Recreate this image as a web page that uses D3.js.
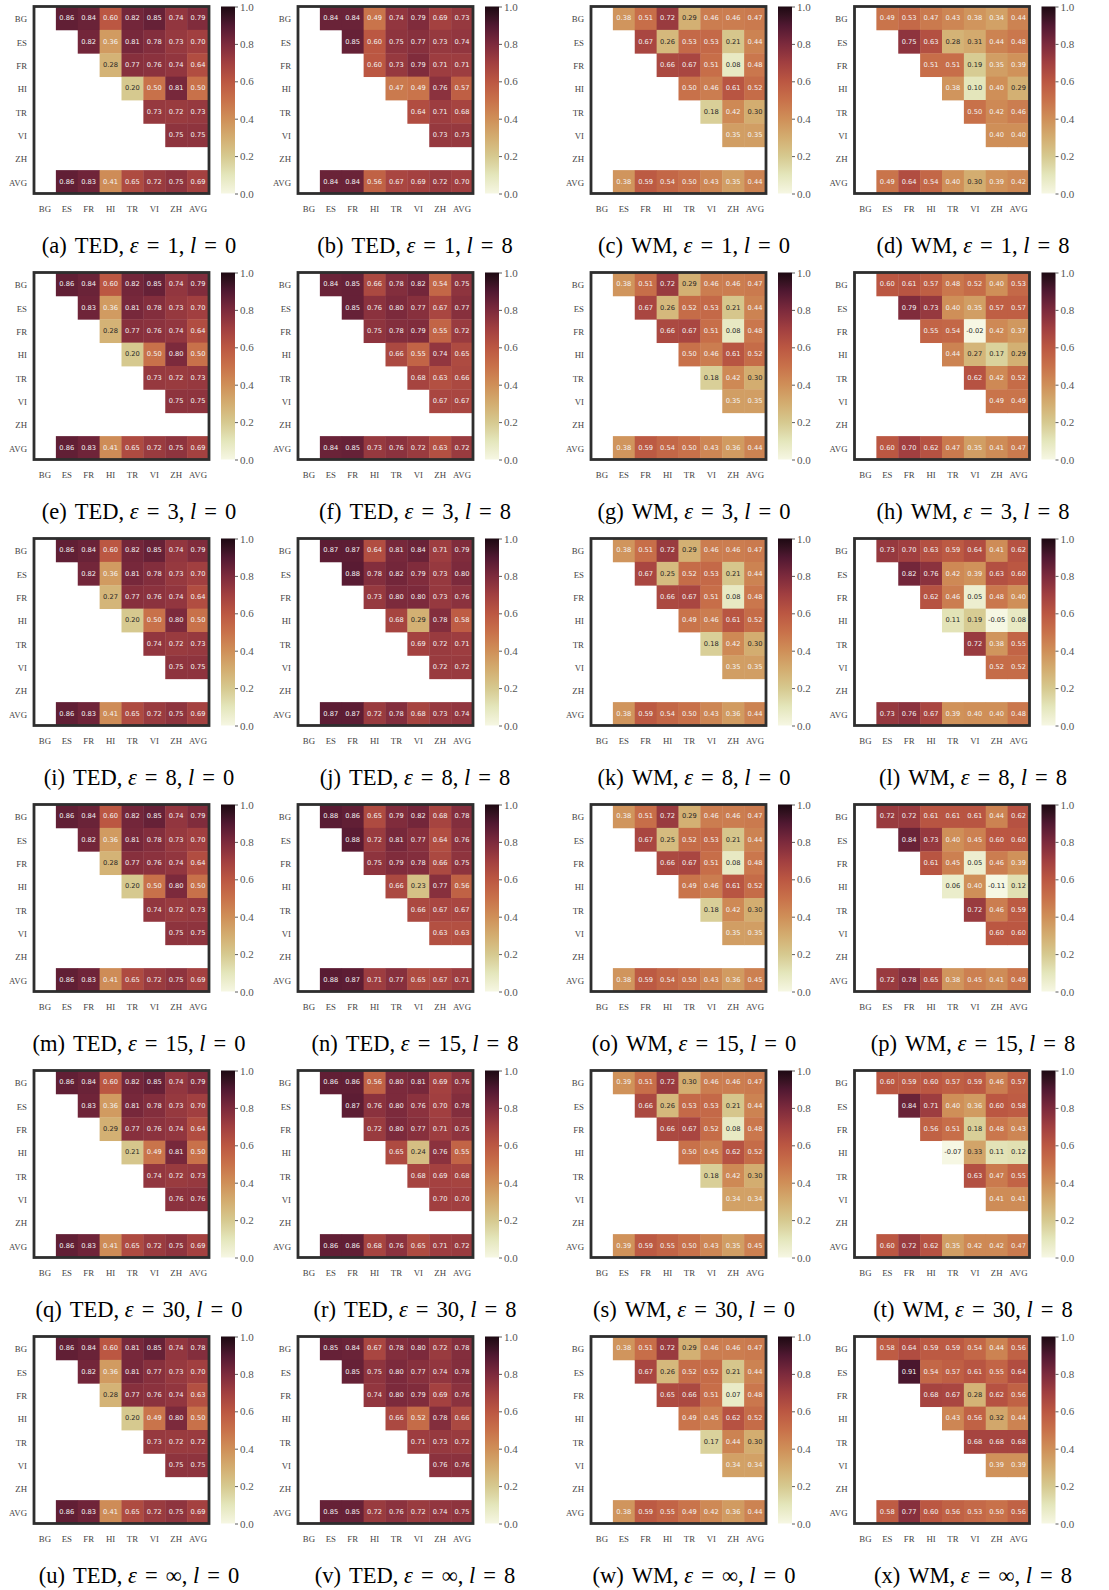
<!DOCTYPE html>
<html><head><meta charset="utf-8">
<script src="https://cdn.jsdelivr.net/npm/d3@7"></script>
<style>body{margin:0;background:#fff}</style>
</head><body>
<script>
// ---------- categories / ticks ----------
const langs = ["BG","ES","FR","HI","TR","VI","ZH","AVG"];
const cbTicks = [0.0, 0.2, 0.4, 0.6, 0.8, 1.0];

// ---------- panel descriptors ----------
const panelLetters = ["a","b","c","d","e","f","g","h","i","j","k","l","m","n","o","p","q","r","s","t","u","v","w","x"];
const panelMethods = ["TED","TED","WM","WM","TED","TED","WM","WM","TED","TED","WM","WM","TED","TED","WM","WM","TED","TED","WM","WM","TED","TED","WM","WM"];
const panelEps = ["1","1","1","1","3","3","3","3","8","8","8","8","15","15","15","15","30","30","30","30","∞","∞","∞","∞"];
const panelLayers = ["0","8","0","8","0","8","0","8","0","8","0","8","0","8","0","8","0","8","0","8","0","8","0","8"];

// ---------- values: rows BG..VI (cols right of diagonal + AVG), last = AVG row (ES..AVG) ----------
const tedE1L0 = [[.86,.84,.60,.82,.85,.74,.79],[.82,.36,.81,.78,.73,.70],[.28,.77,.76,.74,.64],[.20,.50,.81,.50],[.73,.72,.73],[.75,.75],[.86,.83,.41,.65,.72,.75,.69]];
const tedE1L8 = [[.84,.84,.49,.74,.79,.69,.73],[.85,.60,.75,.77,.73,.74],[.60,.73,.79,.71,.71],[.47,.49,.76,.57],[.64,.71,.68],[.73,.73],[.84,.84,.56,.67,.69,.72,.70]];
const wmE1L0 = [[.38,.51,.72,.29,.46,.46,.47],[.67,.26,.53,.53,.21,.44],[.66,.67,.51,.08,.48],[.50,.46,.61,.52],[.18,.42,.30],[.35,.35],[.38,.59,.54,.50,.43,.35,.44]];
const wmE1L8 = [[.49,.53,.47,.43,.38,.34,.44],[.75,.63,.28,.31,.44,.48],[.51,.51,.19,.35,.39],[.38,.10,.40,.29],[.50,.42,.46],[.40,.40],[.49,.64,.54,.40,.30,.39,.42]];

const tedE3L0 = [[.86,.84,.60,.82,.85,.74,.79],[.83,.36,.81,.78,.73,.70],[.28,.77,.76,.74,.64],[.20,.50,.80,.50],[.73,.72,.73],[.75,.75],[.86,.83,.41,.65,.72,.75,.69]];
const tedE3L8 = [[.84,.85,.66,.78,.82,.54,.75],[.85,.76,.80,.77,.67,.77],[.75,.78,.79,.55,.72],[.66,.55,.74,.65],[.68,.63,.66],[.67,.67],[.84,.85,.73,.76,.72,.63,.72]];
const wmE3L0 = [[.38,.51,.72,.29,.46,.46,.47],[.67,.26,.52,.53,.21,.44],[.66,.67,.51,.08,.48],[.50,.46,.61,.52],[.18,.42,.30],[.35,.35],[.38,.59,.54,.50,.43,.36,.44]];
const wmE3L8 = [[.60,.61,.57,.48,.52,.40,.53],[.79,.73,.40,.35,.57,.57],[.55,.54,-.02,.42,.37],[.44,.27,.17,.29],[.62,.42,.52],[.49,.49],[.60,.70,.62,.47,.35,.41,.47]];

const tedE8L0 = [[.86,.84,.60,.82,.85,.74,.79],[.82,.36,.81,.78,.73,.70],[.27,.77,.76,.74,.64],[.20,.50,.80,.50],[.74,.72,.73],[.75,.75],[.86,.83,.41,.65,.72,.75,.69]];
const tedE8L8 = [[.87,.87,.64,.81,.84,.71,.79],[.88,.78,.82,.79,.73,.80],[.73,.80,.80,.73,.76],[.68,.29,.78,.58],[.69,.72,.71],[.72,.72],[.87,.87,.72,.78,.68,.73,.74]];
const wmE8L0 = [[.38,.51,.72,.29,.46,.46,.47],[.67,.25,.52,.53,.21,.44],[.66,.67,.51,.08,.48],[.49,.46,.61,.52],[.18,.42,.30],[.35,.35],[.38,.59,.54,.50,.43,.36,.44]];
const wmE8L8 = [[.73,.70,.63,.59,.64,.41,.62],[.82,.76,.42,.39,.63,.60],[.62,.46,.05,.48,.40],[.11,.19,-.05,.08],[.72,.38,.55],[.52,.52],[.73,.76,.67,.39,.40,.40,.48]];

const tedE15L0 = [[.86,.84,.60,.82,.85,.74,.79],[.82,.36,.81,.78,.73,.70],[.28,.77,.76,.74,.64],[.20,.50,.80,.50],[.74,.72,.73],[.75,.75],[.86,.83,.41,.65,.72,.75,.69]];
const tedE15L8 = [[.88,.86,.65,.79,.82,.68,.78],[.88,.72,.81,.77,.64,.76],[.75,.79,.78,.66,.75],[.66,.23,.77,.56],[.66,.67,.67],[.63,.63],[.88,.87,.71,.77,.65,.67,.71]];
const wmE15L0 = [[.38,.51,.72,.29,.46,.46,.47],[.67,.25,.52,.53,.21,.44],[.66,.67,.51,.08,.48],[.49,.46,.61,.52],[.18,.42,.30],[.35,.35],[.38,.59,.54,.50,.43,.36,.45]];
const wmE15L8 = [[.72,.72,.61,.61,.61,.44,.62],[.84,.73,.40,.45,.60,.60],[.61,.45,.05,.46,.39],[.06,.40,-.11,.12],[.72,.46,.59],[.60,.60],[.72,.78,.65,.38,.45,.41,.49]];

const tedE30L0 = [[.86,.84,.60,.82,.85,.74,.79],[.83,.36,.81,.78,.73,.70],[.29,.77,.76,.74,.64],[.21,.49,.81,.50],[.74,.72,.73],[.76,.76],[.86,.83,.41,.65,.72,.75,.69]];
const tedE30L8 = [[.86,.86,.56,.80,.81,.69,.76],[.87,.76,.80,.76,.70,.78],[.72,.80,.77,.71,.75],[.65,.24,.76,.55],[.68,.69,.68],[.70,.70],[.86,.86,.68,.76,.65,.71,.72]];
const wmE30L0 = [[.39,.51,.72,.30,.46,.46,.47],[.66,.26,.53,.53,.21,.44],[.66,.67,.52,.08,.48],[.50,.45,.62,.52],[.18,.42,.30],[.34,.34],[.39,.59,.55,.50,.43,.35,.45]];
const wmE30L8 = [[.60,.59,.60,.57,.59,.46,.57],[.84,.71,.40,.36,.60,.58],[.56,.51,.18,.48,.43],[-.07,.33,.11,.12],[.63,.47,.55],[.41,.41],[.60,.72,.62,.35,.42,.42,.47]];

const tedEinfL0 = [[.86,.84,.60,.81,.85,.74,.78],[.82,.36,.81,.77,.73,.70],[.28,.77,.76,.74,.63],[.20,.49,.80,.50],[.73,.72,.72],[.75,.75],[.86,.83,.41,.65,.72,.75,.69]];
const tedEinfL8 = [[.85,.84,.67,.78,.80,.72,.78],[.85,.75,.80,.77,.74,.78],[.74,.80,.79,.69,.76],[.66,.52,.78,.66],[.71,.73,.72],[.76,.76],[.85,.85,.72,.76,.72,.74,.75]];
const wmEinfL0 = [[.38,.51,.72,.29,.46,.46,.47],[.67,.26,.52,.52,.21,.44],[.65,.66,.51,.07,.48],[.49,.45,.62,.52],[.17,.44,.30],[.34,.34],[.38,.59,.55,.49,.42,.36,.44]];
const wmEinfL8 = [[.58,.64,.59,.59,.54,.44,.56],[.91,.54,.57,.61,.55,.64],[.68,.67,.28,.62,.56],[.43,.56,.32,.44],[.68,.68,.68],[.39,.39],[.58,.77,.60,.56,.53,.50,.56]];

const panelData = [tedE1L0, tedE1L8, wmE1L0, wmE1L8, tedE3L0, tedE3L8, wmE3L0, wmE3L8,
  tedE8L0, tedE8L8, wmE8L0, wmE8L8, tedE15L0, tedE15L8, wmE15L0, wmE15L8,
  tedE30L0, tedE30L8, wmE30L0, wmE30L8, tedEinfL0, tedEinfL8, wmEinfL0, wmEinfL8];

// ---------- colour map ----------
const cmapStops = [0,.1,.2,.3,.4,.5,.6,.7,.8,.9,1];
const cmapColors = ["#f6f7e3","#e4e6bb","#d6c98f","#d3ad70","#cf8f58","#c8714a","#bb5742","#a13f40","#7c2a3c","#501831","#1d0912"];
const color = d3.scaleLinear().domain(cmapStops).range(cmapColors).interpolate(d3.interpolateLab).clamp(true);

// ---------- layout ----------
const WIDTH = 1109, HEIGHT = 1590;
const colLeft = [34, 298, 591, 854.5];
const capCX = [139, 415, 694, 973];
const W = 175, H = 187, rowPitch = 266, top0 = 6.5;

const svg = d3.select("body").append("svg").attr("width", WIDTH).attr("height", HEIGHT)
  .style("font-family", "'Liberation Serif', serif");
svg.append("rect").attr("width", WIDTH).attr("height", HEIGHT).attr("fill", "#fff");

const defs = svg.append("defs");
const grad = defs.append("linearGradient").attr("id", "cbgrad").attr("x1", 0).attr("y1", 1).attr("x2", 0).attr("y2", 0);
d3.range(0, 1.0001, 0.05).forEach(t => grad.append("stop").attr("offset", t).attr("stop-color", color(t)));

function cellsOf(mat) {
  const out = [];
  for (let i = 0; i < 6; i++) {
    const row = mat[i];
    row.forEach((v, k) => {
      const j = (k === row.length - 1) ? 7 : i + 1 + k;
      out.push({r: langs[i], c: langs[j], v});
    });
  }
  mat[6].forEach((v, k) => out.push({r: "AVG", c: langs[k + 1], v}));
  return out;
}

panelData.forEach((mat, p) => {
  const r = Math.floor(p / 4), c = p % 4;
  const x0 = colLeft[c], y0 = top0 + rowPitch * r;
  const g = svg.append("g");
  const x = d3.scaleBand().domain(langs).range([x0, x0 + W]);
  const y = d3.scaleBand().domain(langs).range([y0, y0 + H]);

  const cells = cellsOf(mat);
  g.selectAll("rect.cell").data(cells).join("rect").attr("class", "cell")
    .attr("x", d => x(d.c)).attr("y", d => y(d.r))
    .attr("width", x.bandwidth() + 0.4).attr("height", y.bandwidth() + 0.4)
    .attr("fill", d => color(d.v));
  g.selectAll("text.ann").data(cells).join("text").attr("class", "ann")
    .attr("x", d => x(d.c) + x.bandwidth() / 2).attr("y", d => y(d.r) + y.bandwidth() / 2)
    .attr("text-anchor", "middle").attr("dominant-baseline", "central")
    .style("font-family", "'DejaVu Sans', sans-serif").style("font-size", "6.7px")
    .attr("fill", d => d.v < 0.335 ? "#262626" : "#f4f4f4")
    .text(d => d3.format(".2f")(d.v).replace("−", "-"));

  // frame
  g.append("rect").attr("x", x0).attr("y", y0).attr("width", W).attr("height", H)
    .attr("fill", "none").attr("stroke", "#2e2e2e").attr("stroke-width", 2.8);

  // axes
  const yAxis = d3.axisLeft(y).tickSize(0).tickPadding(7);
  const ga = g.append("g").attr("transform", `translate(${x0},0)`).call(yAxis);
  ga.select(".domain").remove();
  ga.selectAll("text").style("font-family", "'Liberation Serif', serif").style("font-size", "8.8px").attr("fill", "#444").attr("dy", "0.45em");
  const xAxis = d3.axisBottom(x).tickSize(0).tickPadding(12);
  const gx = g.append("g").attr("transform", `translate(0,${y0 + H})`).call(xAxis);
  gx.select(".domain").remove();
  gx.selectAll("text").style("font-family", "'Liberation Serif', serif").style("font-size", "8.8px").attr("fill", "#444");

  // colorbar
  const cbx = x0 + 187, cbw = 14;
  g.append("rect").attr("x", cbx).attr("y", y0).attr("width", cbw).attr("height", H).attr("fill", "url(#cbgrad)");
  const cy = d3.scaleLinear().domain([0, 1]).range([y0 + H, y0]);
  const cbAxis = d3.axisRight(cy).tickValues(cbTicks).tickSize(3).tickPadding(2).tickFormat(d3.format(".1f"));
  const gc = g.append("g").attr("transform", `translate(${cbx + cbw},0)`).call(cbAxis);
  gc.select(".domain").remove();
  gc.selectAll("line").attr("stroke", "#333").attr("stroke-width", 0.8);
  gc.selectAll("text").style("font-family", "'Liberation Serif', serif").style("font-size", "11px").attr("fill", "#555");

  // caption (math spacing widened around "=")
  const cap = svg.append("text").attr("x", capCX[c]).attr("y", 253 + rowPitch * r)
    .attr("text-anchor", "middle").style("font-size", "22.5px").style("white-space", "pre").attr("fill", "#000");
  cap.append("tspan").text(`(${panelLetters[p]})`);
  cap.append("tspan").attr("dx", 8).text(`${panelMethods[p]}, `);
  cap.append("tspan").style("font-style", "italic").text("ε");
  cap.append("tspan").attr("dx", 8).text("=");
  cap.append("tspan").attr("dx", 8).text(`${panelEps[p]}, `);
  cap.append("tspan").style("font-style", "italic").text("l");
  cap.append("tspan").attr("dx", 8).text("=");
  cap.append("tspan").attr("dx", 8).text(panelLayers[p]);
});
</script>
</body></html>
